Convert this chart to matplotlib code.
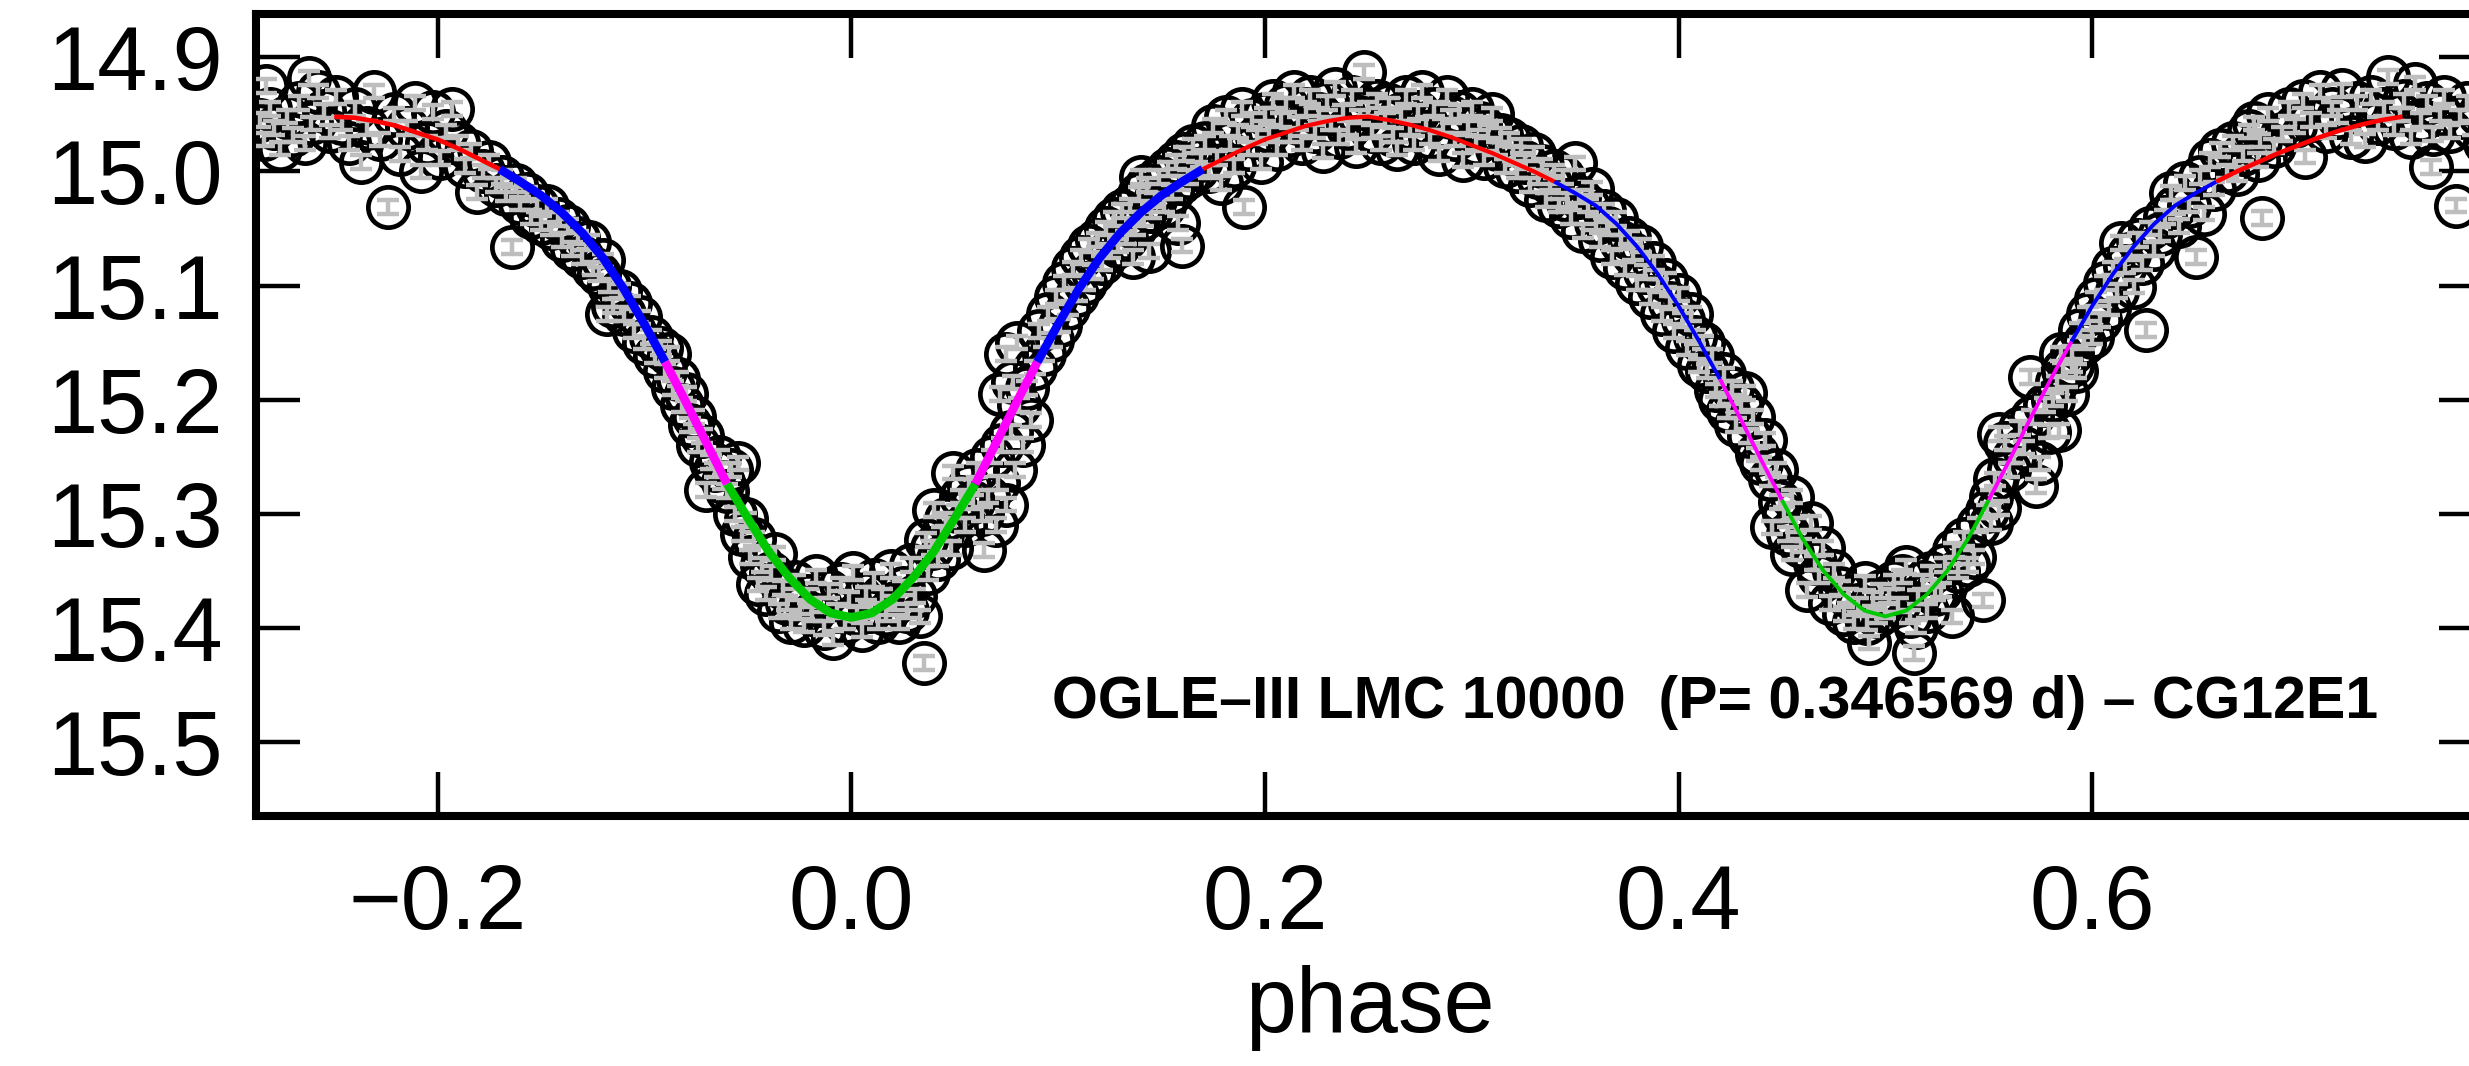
import numpy as np
import matplotlib
matplotlib.use("Agg")
import matplotlib.pyplot as plt

# light curve points (phase, I mag)
pts_left_edge = [(-0.286, 14.955), (-0.284, 14.972), (-0.283, 14.925), (-0.281, 14.945), (-0.279, 14.962),
                 (-0.276, 14.980), (-0.273, 14.952), (-0.270, 14.968), (-0.267, 14.940), (-0.264, 14.975),
                 (-0.262, 14.918), (-0.261, 14.958), (-0.258, 14.930), (-0.255, 14.947), (-0.252, 14.965)]
pts_max_left = [(-0.249, 14.935), (-0.246, 14.958), (-0.243, 14.975), (-0.240, 14.945), (-0.237, 14.992),
                (-0.234, 14.962), (-0.231, 14.930), (-0.228, 14.972), (-0.224, 15.031), (-0.221, 14.950),
                (-0.218, 14.985), (-0.215, 14.962), (-0.211, 14.940), (-0.208, 15.000), (-0.205, 14.975),
                (-0.202, 14.948), (-0.199, 14.988), (-0.196, 14.965), (-0.193, 14.945), (-0.190, 14.975),
                (-0.187, 14.995), (-0.184, 14.982), (-0.181, 15.018), (-0.178, 15.000), (-0.175, 14.992),
                (-0.172, 15.012)]
pts_ingress1 = [(-0.169, 15.005), (-0.167, 15.020), (-0.164, 15.066), (-0.162, 15.012), (-0.160, 15.028),
                (-0.157, 15.020), (-0.155, 15.040), (-0.152, 15.030), (-0.150, 15.045), (-0.147, 15.030),
                (-0.145, 15.050), (-0.142, 15.042), (-0.140, 15.060), (-0.137, 15.048), (-0.135, 15.068),
                (-0.132, 15.058), (-0.130, 15.075), (-0.127, 15.062), (-0.125, 15.085), (-0.122, 15.090),
                (-0.120, 15.078), (-0.118, 15.125), (-0.117, 15.100), (-0.115, 15.118), (-0.112, 15.105),
                (-0.110, 15.125), (-0.107, 15.115), (-0.105, 15.140), (-0.102, 15.128), (-0.100, 15.150),
                (-0.097, 15.145), (-0.095, 15.162), (-0.092, 15.155),
                (-0.090, 15.175), (-0.088, 15.160), (-0.086, 15.190), (-0.084, 15.182), (-0.082, 15.205),
                (-0.080, 15.195), (-0.078, 15.222), (-0.076, 15.215), (-0.074, 15.240), (-0.072, 15.232),
                (-0.070, 15.279), (-0.068, 15.255), (-0.066, 15.262), (-0.064, 15.250), (-0.062, 15.272)]
pts_primary = [(-0.060, 15.280), (-0.058, 15.262), (-0.056, 15.300), (-0.055, 15.256), (-0.053, 15.318),
               (-0.051, 15.305), (-0.049, 15.338), (-0.047, 15.322), (-0.045, 15.362), (-0.043, 15.345),
               (-0.041, 15.370), (-0.039, 15.352), (-0.037, 15.335), (-0.035, 15.385), (-0.033, 15.365),
               (-0.031, 15.378), (-0.029, 15.395), (-0.027, 15.360), (-0.025, 15.382), (-0.023, 15.398),
               (-0.021, 15.372), (-0.019, 15.388), (-0.017, 15.355), (-0.015, 15.380), (-0.013, 15.400),
               (-0.011, 15.368), (-0.009, 15.409), (-0.007, 15.385), (-0.005, 15.362), (-0.003, 15.395),
               (-0.001, 15.375), (0.001, 15.352), (0.003, 15.388), (0.005, 15.402), (0.007, 15.370),
               (0.009, 15.385), (0.011, 15.358), (0.013, 15.395), (0.015, 15.372), (0.017, 15.388),
               (0.019, 15.350), (0.021, 15.378), (0.023, 15.395), (0.025, 15.365), (0.027, 15.385),
               (0.029, 15.345), (0.031, 15.372), (0.033, 15.390), (0.035, 15.431), (0.036, 15.323),
               (0.037, 15.352), (0.039, 15.330), (0.040, 15.297), (0.042, 15.340), (0.044, 15.318),
               (0.046, 15.305), (0.048, 15.330), (0.049, 15.264), (0.051, 15.298), (0.053, 15.285),
               (0.055, 15.310), (0.057, 15.276), (0.059, 15.290)]
pts_egress1 = [(0.061, 15.262), (0.063, 15.300), (0.064, 15.332), (0.066, 15.285), (0.068, 15.250),
               (0.070, 15.310), (0.071, 15.273), (0.072, 15.195), (0.073, 15.240), (0.075, 15.292),
               (0.075, 15.160), (0.077, 15.228), (0.078, 15.185), (0.079, 15.262), (0.080, 15.150),
               (0.081, 15.205), (0.083, 15.240), (0.085, 15.190), (0.087, 15.218), (0.089, 15.172),
               (0.091, 15.140), (0.093, 15.160), (0.095, 15.125), (0.097, 15.148), (0.099, 15.110),
               (0.101, 15.135), (0.103, 15.098), (0.105, 15.120), (0.107, 15.085), (0.109, 15.108),
               (0.111, 15.075), (0.113, 15.098), (0.115, 15.065), (0.117, 15.088), (0.119, 15.060),
               (0.121, 15.080), (0.123, 15.050), (0.125, 15.070), (0.127, 15.042), (0.129, 15.065),
               (0.131, 15.035), (0.133, 15.058), (0.135, 15.030), (0.136, 15.075), (0.137, 15.050),
               (0.139, 15.020), (0.140, 15.005), (0.141, 15.042), (0.143, 15.012), (0.144, 15.070),
               (0.145, 15.035), (0.147, 15.025), (0.149, 15.005), (0.151, 15.030), (0.153, 14.998),
               (0.155, 15.018), (0.157, 14.992), (0.158, 15.045), (0.159, 15.010), (0.160, 15.065),
               (0.161, 14.985), (0.163, 15.005), (0.165, 14.978), (0.167, 14.998), (0.169, 14.990)]
pts_max_mid = [(0.171, 14.975), (0.173, 15.000), (0.175, 14.960), (0.177, 14.988), (0.179, 15.010),
               (0.181, 14.952), (0.183, 14.975), (0.185, 14.995), (0.187, 14.965), (0.189, 14.945),
               (0.190, 15.031), (0.192, 14.980), (0.194, 14.955), (0.196, 14.970), (0.198, 14.992),
               (0.200, 14.950), (0.202, 14.965), (0.204, 14.938), (0.206, 14.980), (0.208, 14.955),
               (0.210, 14.942), (0.212, 14.968), (0.214, 14.930), (0.216, 14.958), (0.218, 14.975),
               (0.220, 14.945), (0.222, 14.935), (0.224, 14.965), (0.226, 14.950), (0.228, 14.982),
               (0.230, 14.940), (0.232, 14.958), (0.234, 14.928), (0.236, 14.970), (0.238, 14.948),
               (0.240, 14.962), (0.242, 14.935), (0.244, 14.978), (0.246, 14.952), (0.248, 14.913),
               (0.250, 14.945), (0.252, 14.965), (0.254, 14.938), (0.256, 14.975), (0.258, 14.955),
               (0.260, 14.942), (0.262, 14.968), (0.264, 14.980), (0.266, 14.950), (0.268, 14.935),
               (0.270, 14.962), (0.272, 14.975), (0.274, 14.948), (0.276, 14.930), (0.278, 14.958),
               (0.280, 14.970), (0.282, 14.945), (0.284, 14.985), (0.286, 14.960), (0.288, 14.935),
               (0.290, 14.952), (0.292, 14.972), (0.294, 14.948), (0.296, 14.990), (0.298, 14.962),
               (0.300, 14.945), (0.302, 14.975), (0.304, 14.958), (0.306, 14.988), (0.308, 14.965),
               (0.310, 14.950), (0.312, 14.980), (0.314, 14.968), (0.316, 14.995), (0.318, 14.972),
               (0.320, 14.985), (0.322, 15.000), (0.324, 14.978), (0.326, 14.992), (0.328, 15.012),
               (0.330, 14.985), (0.332, 15.005), (0.334, 14.995), (0.336, 15.025), (0.338, 15.010),
               (0.340, 15.000)]
pts_ingress2 = [(0.342, 15.030), (0.344, 15.005), (0.346, 15.025), (0.348, 15.040), (0.350, 14.993),
                (0.352, 15.022), (0.354, 15.052), (0.356, 15.030), (0.358, 15.015), (0.360, 15.045),
                (0.362, 15.060), (0.364, 15.035), (0.366, 15.050), (0.368, 15.075), (0.370, 15.042),
                (0.372, 15.062), (0.374, 15.085), (0.376, 15.058), (0.378, 15.072), (0.380, 15.098),
                (0.382, 15.065), (0.384, 15.088), (0.386, 15.110), (0.388, 15.080), (0.390, 15.100),
                (0.392, 15.125), (0.394, 15.095), (0.396, 15.115), (0.398, 15.140), (0.400, 15.108),
                (0.402, 15.130), (0.404, 15.155), (0.406, 15.125), (0.408, 15.145), (0.410, 15.170),
                (0.412, 15.150), (0.414, 15.175), (0.416, 15.162), (0.418, 15.192),
                (0.420, 15.200), (0.422, 15.178), (0.424, 15.210), (0.426, 15.190), (0.428, 15.222),
                (0.430, 15.205), (0.432, 15.194), (0.434, 15.232), (0.436, 15.215), (0.438, 15.248),
                (0.440, 15.256), (0.442, 15.235), (0.444, 15.270), (0.445, 15.312), (0.447, 15.262),
                (0.449, 15.290)]
pts_secondary = [(0.451, 15.300), (0.453, 15.318), (0.455, 15.335), (0.455, 15.285), (0.457, 15.310),
                 (0.459, 15.328), (0.462, 15.367), (0.464, 15.308), (0.466, 15.343), (0.468, 15.355),
                 (0.470, 15.330), (0.473, 15.378), (0.475, 15.350), (0.478, 15.365), (0.480, 15.388),
                 (0.482, 15.372), (0.485, 15.395), (0.487, 15.380), (0.490, 15.361), (0.491, 15.396),
                 (0.492, 15.413), (0.494, 15.375), (0.496, 15.390), (0.498, 15.368), (0.500, 15.385),
                 (0.502, 15.372), (0.504, 15.360), (0.506, 15.380), (0.508, 15.355), (0.510, 15.347),
                 (0.512, 15.390), (0.514, 15.422), (0.515, 15.399), (0.516, 15.373), (0.518, 15.360),
                 (0.520, 15.385), (0.522, 15.352), (0.524, 15.370), (0.527, 15.367), (0.529, 15.345),
                 (0.532, 15.390), (0.533, 15.332), (0.535, 15.350), (0.538, 15.322), (0.540, 15.345),
                 (0.543, 15.338), (0.545, 15.310), (0.547, 15.376), (0.549, 15.298), (0.551, 15.308)]
pts_egress2 = [(0.551, 15.285), (0.553, 15.270), (0.555, 15.295), (0.555, 15.230), (0.558, 15.238),
               (0.560, 15.262), (0.562, 15.250), (0.565, 15.225), (0.567, 15.242), (0.570, 15.180),
               (0.571, 15.215), (0.573, 15.276), (0.575, 15.256), (0.577, 15.205), (0.579, 15.228),
               (0.581, 15.200), (0.583, 15.185), (0.584, 15.227), (0.585, 15.160), (0.586, 15.174),
               (0.588, 15.195), (0.590, 15.159), (0.590, 15.170), (0.592, 15.175), (0.594, 15.139),
               (0.596, 15.150), (0.598, 15.125), (0.600, 15.145), (0.602, 15.112), (0.604, 15.130),
               (0.606, 15.098), (0.608, 15.120), (0.610, 15.085), (0.612, 15.105), (0.614, 15.063),
               (0.616, 15.083), (0.618, 15.072), (0.620, 15.101), (0.622, 15.060), (0.624, 15.080),
               (0.626, 15.139), (0.628, 15.050), (0.630, 15.068), (0.633, 15.055), (0.635, 15.040),
               (0.638, 15.019), (0.640, 15.031), (0.642, 15.048), (0.645, 15.010), (0.647, 15.030),
               (0.650, 15.075), (0.652, 15.005), (0.654, 15.037), (0.657, 14.990), (0.659, 15.015),
               (0.662, 14.981)]
pts_max_right = [(0.665, 15.000), (0.668, 14.975), (0.670, 15.002), (0.673, 14.985), (0.676, 14.965),
                 (0.678, 14.958), (0.680, 14.990), (0.681, 14.973), (0.682, 15.041), (0.685, 14.950),
                 (0.688, 14.978), (0.692, 14.967), (0.695, 14.945), (0.698, 14.960), (0.702, 14.938),
                 (0.703, 14.987), (0.706, 14.955), (0.710, 14.930), (0.713, 14.965), (0.716, 14.945),
                 (0.719, 14.952), (0.721, 14.929), (0.725, 14.970), (0.728, 14.940), (0.732, 14.973),
                 (0.735, 14.935), (0.738, 14.958), (0.741, 14.945), (0.743, 14.917), (0.746, 14.962),
                 (0.749, 14.950), (0.751, 14.938), (0.754, 14.970), (0.756, 14.923), (0.759, 14.955),
                 (0.762, 14.940), (0.764, 14.996), (0.765, 14.967), (0.768, 14.950), (0.770, 14.935),
                 (0.773, 14.965), (0.776, 15.030), (0.778, 14.952), (0.781, 14.940), (0.784, 14.962),
                 (0.787, 14.950), (0.790, 14.975)]
mag_err = 0.006

# fitted model, sampled every 0.01 in phase from -0.25 to 0.75
model_phase = np.arange(-25, 76) / 100.0
model_mag = [14.952, 14.953, 14.956, 14.960, 14.966, 14.972, 14.980, 14.989, 14.998, 15.009,
             15.021, 15.036, 15.054, 15.076, 15.103, 15.134, 15.167, 15.202, 15.238, 15.274,
             15.304, 15.333, 15.356, 15.375, 15.387, 15.391,
             15.387, 15.375, 15.356, 15.333, 15.304, 15.274, 15.238, 15.202, 15.167, 15.134,
             15.103, 15.076, 15.054, 15.036, 15.021, 15.009, 14.998, 14.989, 14.980, 14.972,
             14.966, 14.960, 14.956, 14.953, 14.952,
             14.955, 14.959, 14.964, 14.970, 14.977, 14.984, 14.992, 15.000, 15.009, 15.019,
             15.030, 15.046, 15.066, 15.090, 15.118, 15.149, 15.182, 15.217, 15.253, 15.288,
             15.322, 15.350, 15.371, 15.385, 15.390,
             15.385, 15.371, 15.350, 15.322, 15.288, 15.253, 15.217, 15.182, 15.149, 15.118,
             15.090, 15.066, 15.046, 15.030, 15.019, 15.009, 15.000, 14.992, 14.984, 14.977,
             14.970, 14.964, 14.959, 14.955, 14.952]

green = '#00c800'
segments = [(-0.25, -0.17, 'red', 3.3), (-0.17, -0.09, 'blue', 6.2), (-0.09, -0.06, 'magenta', 6.2),
            (-0.06, 0.06, green, 6.2), (0.06, 0.09, 'magenta', 6.2), (0.09, 0.17, 'blue', 6.2),
            (0.17, 0.34, 'red', 3.0), (0.34, 0.42, 'blue', 2.8), (0.42, 0.45, 'magenta', 2.8),
            (0.45, 0.55, green, 2.8), (0.55, 0.59, 'magenta', 2.8), (0.59, 0.66, 'blue', 2.8),
            (0.66, 0.75, 'red', 3.3)]

plt.rcParams['font.family'] = ['Liberation Sans', 'DejaVu Sans']

allpts = np.array(pts_left_edge + pts_max_left + pts_ingress1 + pts_primary + pts_egress1 +
                  pts_max_mid + pts_ingress2 + pts_secondary + pts_egress2 + pts_max_right)
phase = allpts[:, 0]
mag = allpts[:, 1]

fig = plt.figure(figsize=(24.69, 10.66), dpi=100)
ax = fig.add_axes([0.1037, 0.2345, 0.902, 0.7524])

ax.plot(phase, mag, 'o', ms=29, mfc='none', mec='black', mew=3.4, zorder=2)
ax.errorbar(phase, mag, yerr=mag_err, fmt='none', ecolor='#bebebe', elinewidth=3.2,
            capsize=8, capthick=3.2, zorder=3)

mp = np.array(model_phase)
mm = np.array(model_mag)
for lo, hi, col, lw in segments:
    m = (mp >= lo - 1e-9) & (mp <= hi + 1e-9)
    ax.plot(mp[m], mm[m], color=col, lw=lw, solid_capstyle='butt', zorder=5)

ax.set_xlim(-0.2878, 0.789)
ax.set_ylim(15.565, 14.862)
ax.set_xticks([-0.2, 0.0, 0.2, 0.4, 0.6])
ax.set_xticklabels(['\u22120.2', '0.0', '0.2', '0.4', '0.6'])
ax.set_yticks([14.9, 15.0, 15.1, 15.2, 15.3, 15.4, 15.5])
ax.set_yticklabels(['14.9', '15.0', '15.1', '15.2', '15.3', '15.4', '15.5'])
ax.tick_params(direction='in', length=32, width=3.2, labelsize=65, top=True, right=True)
ax.tick_params(axis='x', pad=34)
ax.tick_params(axis='y', pad=24)
for sp in ax.spines.values():
    sp.set_linewidth(5.8)

ax.set_xlabel('phase', fontsize=66, labelpad=12)
ax.text(0.0972, 15.479, 'OGLE\u2013III LMC 10000  (P= 0.346569 d) \u2013 CG12E1',
        fontsize=42.5, fontweight='bold', ha='left', va='baseline', zorder=6)

fig.savefig('out.png', dpi=100)
